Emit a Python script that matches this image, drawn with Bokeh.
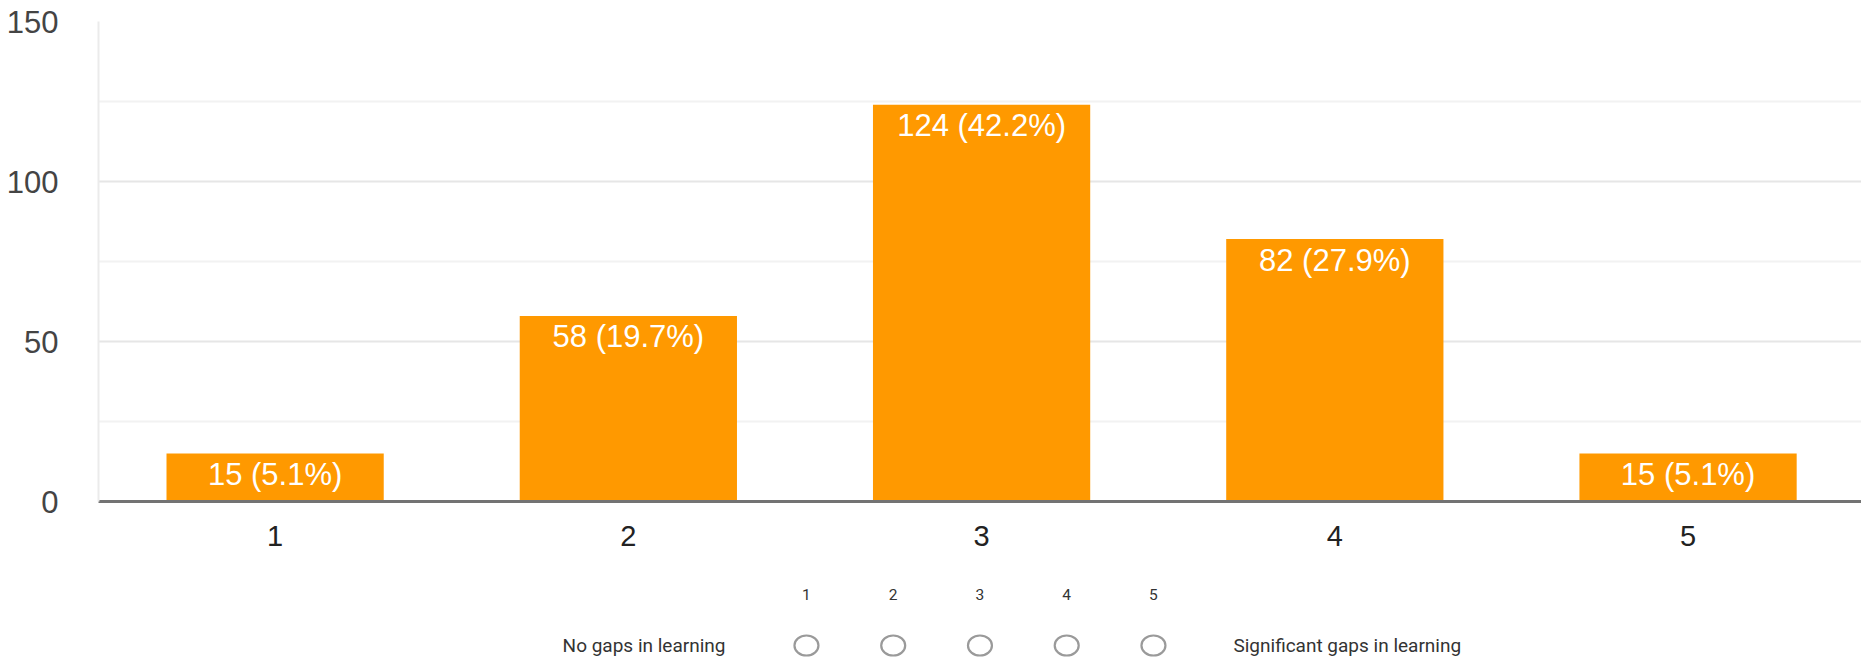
from bokeh.plotting import figure
from bokeh.models import Range1d, FixedTicker
from bokeh.layouts import column
from bokeh.core.properties import value
from bokeh.embed import file_html
from bokeh.resources import INLINE

# ---- data ----
categories = [1, 2, 3, 4, 5]
counts = [15, 58, 124, 82, 15]
percents = [5.1, 19.7, 42.2, 27.9, 5.1]
bar_labels = [f"{c} ({p}%)" for c, p in zip(counts, percents)]
y_ticks = [0, 50, 100, 150]
y_minor_ticks = [25, 75, 125]

scale_points = [1, 2, 3, 4, 5]
scale_labels = ["1", "2", "3", "4", "5"]
low_label = "No gaps in learning"
high_label = "Significant gaps in learning"

ORANGE = "#ff9900"
FONT = "Liberation Sans"

# ---- bar chart ----
p = figure(width=1861, height=578, x_range=Range1d(0.5, 5.491), y_range=Range1d(0, 150),
           output_backend="svg", toolbar_location=None,
           min_border_left=98, min_border_right=0, min_border_top=21, min_border_bottom=77)
p.outline_line_color = None
p.background_fill_color = "white"
p.border_fill_color = "white"

p.vbar(x=categories, top=counts, width=0.615, bottom=0, fill_color=ORANGE, line_color=None)
p.text(x=categories, y=counts, text=bar_labels, text_align="center", text_baseline="middle",
       y_offset=21, text_color="white", text_font=value(FONT), text_font_size="31px")

p.xgrid.grid_line_color = None
p.ygrid.ticker = FixedTicker(ticks=y_ticks, minor_ticks=y_minor_ticks)
p.ygrid.grid_line_color = "#e6e6e6"
p.ygrid.grid_line_width = 2
p.ygrid.minor_grid_line_color = "#f2f2f2"
p.ygrid.minor_grid_line_width = 2

p.yaxis.ticker = FixedTicker(ticks=y_ticks, minor_ticks=y_minor_ticks)
p.yaxis.axis_line_color = "#ebebeb"
p.yaxis.axis_line_width = 2
p.yaxis.major_tick_line_color = None
p.yaxis.minor_tick_line_color = None
p.yaxis.major_label_standoff = 34
p.yaxis.major_label_text_font = FONT
p.yaxis.major_label_text_font_size = "31px"
p.yaxis.major_label_text_color = "#444444"

p.xaxis.ticker = FixedTicker(ticks=categories)
p.xaxis.axis_line_color = "#737373"
p.xaxis.axis_line_width = 3
p.xaxis.major_tick_line_color = None
p.xaxis.minor_tick_line_color = None
p.xaxis.major_label_standoff = 18
p.xaxis.major_label_text_font = FONT
p.xaxis.major_label_text_font_size = "29px"
p.xaxis.major_label_text_color = "#222222"

# ---- linear scale row (frame aligned with the chart frame: x 98..1861) ----
q = figure(width=1861, height=85, x_range=Range1d(-7.161, 13.162), y_range=Range1d(85, 0),
           output_backend="svg", toolbar_location=None,
           x_axis_location=None, y_axis_location=None,
           min_border_left=98, min_border_right=0, min_border_top=0, min_border_bottom=0)
q.grid.grid_line_color = None
q.outline_line_color = None
q.background_fill_color = "white"
q.border_fill_color = "white"

q.text(x=scale_points, y=16, text=scale_labels, text_align="center", text_baseline="middle",
       text_font=value("Roboto"), text_font_size="15.5px", text_color="#333333")
q.ellipse(x=scale_points, y=67, width=24, height=20, width_units="screen", height_units="screen",
          fill_color=None, line_color="#9a9a9a", line_width=2.2)
q.text(x=[scale_points[0]], y=67, text=[low_label], text_align="right", text_baseline="middle",
       x_offset=-81, text_font=value("Roboto"), text_font_size="19px", text_color="#333333")
q.text(x=[scale_points[-1]], y=67, text=[high_label], text_align="left", text_baseline="middle",
       x_offset=80, text_font=value("Roboto"), text_font_size="19px", text_color="#333333")

layout = column(p, q, spacing=0)
open("out.html", "w").write(file_html(layout, INLINE))
